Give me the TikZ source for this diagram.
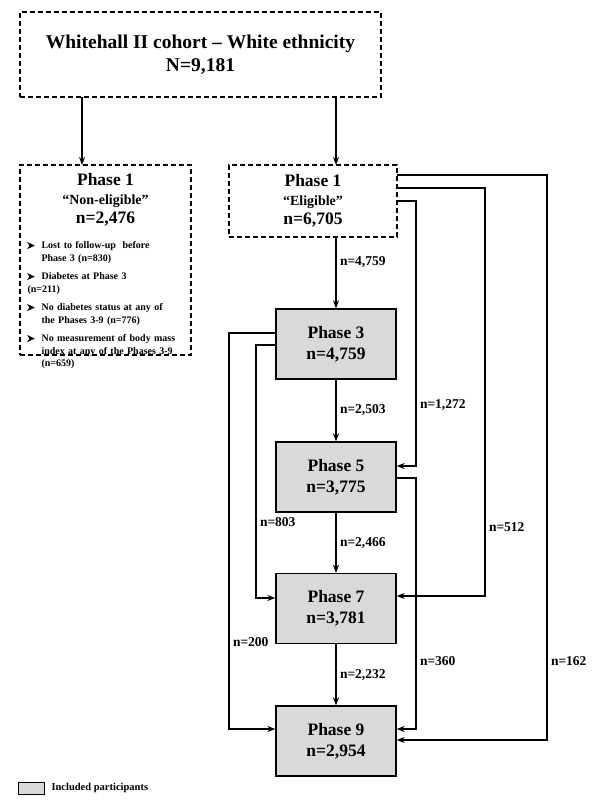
\documentclass[tikz,border=0pt]{standalone}
\usepackage{fontspec}
\setmainfont{Liberation Serif}
\usetikzlibrary{arrows.meta}
\newcommand\mybul{\makebox[14pt][l]{\tikz[baseline=0pt]\filldraw[line width=0.4pt] (0,0)--(6.5pt,3pt)--(0,6pt)--(2pt,3pt)--cycle;}}
\begin{document}
\begin{tikzpicture}[x=1pt,y=-1pt,font=\bfseries,
  dbox/.style={draw,dashed,line width=1.3pt,dash pattern=on 5pt off 3pt},
  pbox/.style={draw,fill=gray!30,line width=1.3pt,minimum width=120pt,minimum height=70pt,align=center,font=\bfseries\fontsize{17.5}{21}\selectfont},
  arr/.style={-{Stealth[length=8pt,width=6pt]},line width=1.4pt},
  lab/.style={font=\bfseries\fontsize{13.5}{15}\selectfont,anchor=west}]
\useasboundingbox (0,0) rectangle (600,800);
\node[dbox,minimum width=361pt,minimum height=85pt,align=center,font=\bfseries\fontsize{19.5}{23}\selectfont] (top) at (200.5,54.5) {Whitehall II cohort -- White ethnicity\\N=9,181};
\node[dbox,minimum width=171pt,minimum height=190pt] (ne) at (105.5,260) {};
\node[anchor=north,align=center,font=\bfseries\fontsize{17.5}{19}\selectfont] (netxt) at (105.5,170) {Phase 1\\{\fontsize{14}{15}\selectfont “Non-eligible”}\\n=2,476};
\node[anchor=north west,align=left,font=\bfseries\fontsize{10}{12.5}\selectfont,text width=150pt] (bl) at (24,238) {
\setlength{\parskip}{6pt}%
\hangindent=14pt\hangafter=1\mybul Lost to follow-up \ before Phase 3 (n=830)\par
\hangindent=14pt\hangafter=1\mybul Diabetes at Phase 3\\ (n=211)\par
\hangindent=14pt\hangafter=1\mybul No diabetes status at any of the Phases 3-9 (n=776)\par
\hangindent=14pt\hangafter=1\mybul No measurement of body mass index at any of the Phases 3-9 (n=659)\par};
\node[dbox,minimum width=168pt,minimum height=72pt,align=center,font=\bfseries\fontsize{17.5}{19}\selectfont] (el) at (313,201) {Phase 1\\{\fontsize{14}{15}\selectfont “Eligible”}\\n=6,705};
\node[pbox] (p3) at (336,344) {Phase 3\\n=4,759};
\node[pbox] (p5) at (336,477) {Phase 5\\n=3,775};
\node[pbox] (p7) at (336,608.5) {Phase 7\\n=3,781};
\node[pbox] (p9) at (336,741) {Phase 9\\n=2,954};
\draw[arr] (82,97) -- (82,165);
\draw[arr] (336,97) -- (336,165);
\draw[arr] (336,237) -- (p3) node[lab,pos=0.35] {n=4,759};
\draw[arr] (p3) -- (p5) node[lab,midway] {n=2,503};
\draw[arr] (p5) -- (p7) node[lab,midway] {n=2,466};
\draw[arr] (p7) -- (p9) node[lab,midway] {n=2,232};
\coordinate (r1) at (397,175); \coordinate (r2) at (397,188); \coordinate (r3) at (397,201);
\draw[arr] (r3) -- (416,201) -- (416,466) node[lab,pos=0.77] {n=1,272} -- (p5.east |- 0,466);
\draw[arr] (r2) -- (485,188) -- (485,596) node[lab,pos=0.83] {n=512} -- (p7.east |- 0,596);
\draw[arr] (r1) -- (547,175) -- (547,740) node[lab,pos=0.86] {n=162} -- (p9.east |- 0,740);
\draw[arr] (p5.east |- 0,478) -- (416,478) -- (416,729) node[lab,pos=0.73] {n=360} -- (p9.east |- 0,729);
\draw[arr] (p3.west |- 0,333) -- (229,333) -- (229,729) node[lab,pos=0.78] {n=200} -- (p9.west |- 0,729);
\draw[arr] (p3.west |- 0,345) -- (256,345) -- (256,598) node[lab,pos=0.7] {n=803} -- (p7.west |- 0,598);
\node[draw,fill=gray!30,line width=0.8pt,minimum width=26pt,minimum height=12pt] (leg) at (31,788) {};
\node[anchor=west,font=\bfseries\fontsize{10.5}{12}\selectfont] (legt) at (48,788) {Included participants};
\end{tikzpicture}
\end{document}
